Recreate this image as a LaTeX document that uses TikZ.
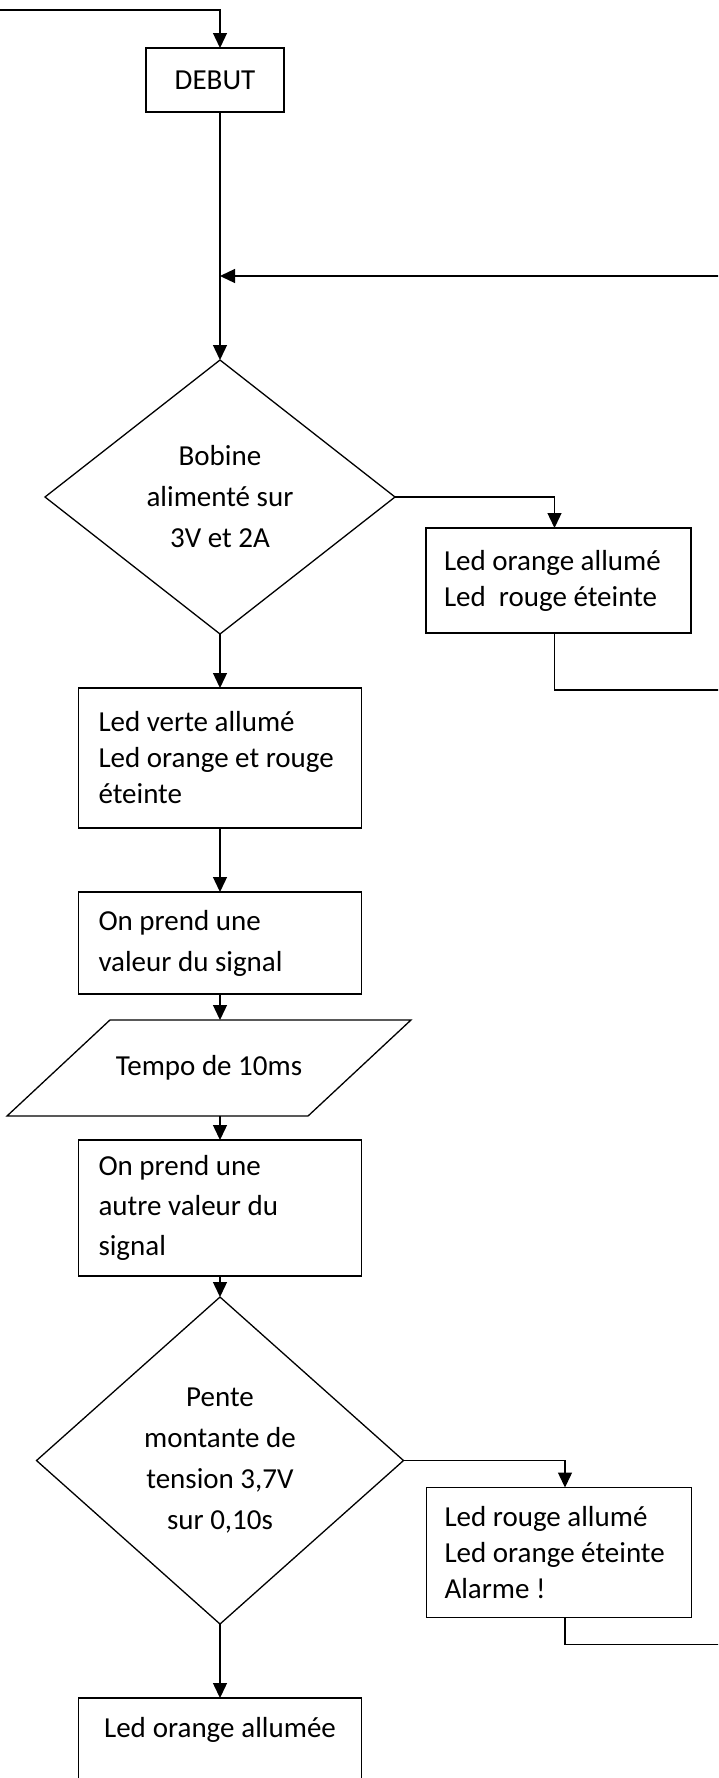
\documentclass[tikz,border=0pt]{standalone}
\usepackage{fontspec}
\setmainfont{Carlito}
\usetikzlibrary{arrows.meta,positioning,shapes.geometric}

\begin{document}
\begin{tikzpicture}[->,>={Triangle[length=15pt,width=14pt]},x=1pt,y=-1pt,
                    line width=1.3pt,font=\fontsize{29}{36}\selectfont]
  \tikzstyle{boite}=[draw,rectangle,outer sep=0pt,inner xsep=20pt,inner ysep=2pt,
                     minimum width=283pt,text width=243pt,align=left,
                     execute at begin node={\spaceskip=0pt\xspaceskip=0pt}]
  \tikzstyle{cote}=[boite,minimum width=265pt,text width=229pt,inner xsep=18pt]
  \tikzstyle{choix}=[draw,diamond,outer sep=0pt,inner sep=0pt,align=center,
                     font=\fontsize{29}{41}\selectfont]
  \tikzstyle{attente}=[draw,trapezium,trapezium left angle=43,trapezium right angle=137,
                       trapezium stretches body,outer sep=0pt,inner ysep=35pt,
                       text height=20pt,text depth=6pt,minimum width=404pt]

  \useasboundingbox (0,0) rectangle (718,1778);
  \clip (0,0) rectangle (718,1778);

  \node[draw,rectangle,outer sep=0pt,minimum width=138pt,minimum height=64pt] (debut) at (215,80) {DEBUT};
  \node[choix,minimum width=350pt,minimum height=274pt,below=248pt of debut,xshift=5pt] (bobine) {Bobine\\alimenté sur\\3V et 2A};
  \node[cote,minimum height=105pt,below right=31pt and 31pt of bobine.east] (orange) {Led orange allumé\\Led~~rouge éteinte};
  \node[boite,minimum height=140pt,below=54pt of bobine] (verte) {Led verte allumé\\Led orange et rouge\\éteinte};
  \node[boite,minimum height=102pt,below=64pt of verte,font=\fontsize{29}{41}\selectfont] (valeur1) {On prend une\\valeur du signal};
  \node[attente,below=26pt of valeur1,xshift=-11pt] (tempo) {Tempo de 10ms};
  \node[boite,minimum height=136pt,below=24pt of tempo,xshift=11pt,font=\fontsize{29}{40}\selectfont] (valeur2) {On prend une\\autre valeur du\\signal};
  \node[choix,minimum width=367pt,minimum height=327pt,below=21pt of valeur2] (pente) {Pente\\montante de\\tension 3,7V\\sur 0,10s};
  \node[cote,minimum height=130pt,below right=27pt and 23pt of pente.east] (rouge) {Led rouge allumé\\Led orange éteinte\\Alarme !};
  \node[boite,align=center,inner ysep=19pt,text height=20pt,text depth=70pt,below=74pt of pente] (fin) {Led orange allumée};

  \coordinate (entree) at (-30,10);
  \coordinate (retour) at (760,276);

  \draw (entree) -| (bobine.north |- debut.north);
  \path (bobine.north |- debut.south) edge (bobine.north)
        (retour) edge (retour -| bobine.north)
        (bobine) edge (verte)
        (verte) edge (valeur1)
        (valeur1.south) edge (valeur1.south |- tempo.north)
        (valeur2.north |- tempo.south) edge (valeur2.north)
        (valeur2) edge (pente)
        (pente) edge (fin);
  \draw (bobine.east) -| ([xshift=-4pt]orange.north);
  \draw (pente.east) -| ([xshift=6pt]rouge.north);
  \draw[-] ([xshift=-4pt]orange.south) -- ++(0,57) -| (retour);
  \draw[-] ([xshift=6pt]rouge.south) -- ++(0,27) -| (retour);
\end{tikzpicture}
\end{document}
